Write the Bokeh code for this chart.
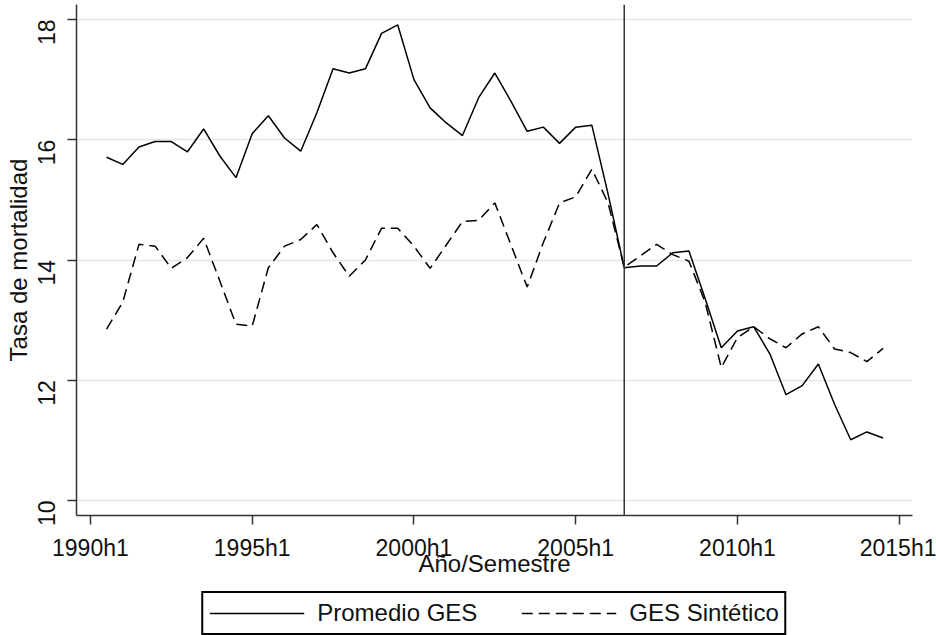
import math

from bokeh.plotting import figure
from bokeh.layouts import column
from bokeh.models import Range1d, FixedTicker, Span, Legend, LegendItem
from bokeh.embed import file_html
from bokeh.resources import INLINE

# Semester index: 0 = 1990h1, 1 = 1990h2, ... (data runs 1990h2 .. 2014h2)
semester = list(range(1, 50))

promedio_ges = [
    15.71, 15.59, 15.88, 15.97, 15.97, 15.80, 16.18, 15.73, 15.37, 16.10,
    16.40, 16.03, 15.81, 16.45, 17.18, 17.11, 17.18, 17.77, 17.91, 17.00,
    16.53, 16.28, 16.07, 16.70, 17.11, 16.64, 16.14, 16.21, 15.94, 16.21,
    16.24, 15.10, 13.87, 13.90, 13.90, 14.12, 14.15, 13.36, 12.54, 12.82,
    12.89, 12.44, 11.76, 11.91, 12.27, 11.60, 11.01, 11.14, 11.04,
]

ges_sintetico = [
    12.85, 13.30, 14.26, 14.23, 13.86, 14.04, 14.36, 13.65, 12.93, 12.90,
    13.87, 14.23, 14.34, 14.59, 14.12, 13.73, 14.00, 14.53, 14.53, 14.23,
    13.86, 14.25, 14.64, 14.66, 14.95, 14.25, 13.55, 14.29, 14.95, 15.05,
    15.51, 14.95, 13.88, 14.07, 14.26, 14.09, 13.98, 13.30, 12.21, 12.71,
    12.89, 12.69, 12.54, 12.77, 12.89, 12.52, 12.46, 12.31, 12.53,
]

x_ticks = [0, 10, 20, 30, 40, 50]
x_tick_labels = ["1990h1", "1995h1", "2000h1", "2005h1", "2010h1", "2015h1"]
y_ticks = [10, 12, 14, 16, 18]
treatment_semester = 33  # 2006h2

FONT = "Liberation Sans"
TEXT = "#111111"
SOLID = dict(line_color="black", line_width=1.5)
DASHED = dict(line_color="black", line_width=1.5, line_dash="11 6")
BORDERS = dict(min_border_left=76, min_border_right=24)

p = figure(
    width=936, height=591,
    output_backend="svg", toolbar_location=None,
    x_range=Range1d(-0.86, 50.82), y_range=Range1d(9.75, 18.25),
    min_border_top=4, min_border_bottom=76, **BORDERS,
    background_fill_color="white", border_fill_color="white",
)
p.outline_line_color = None

# grid: horizontal only
p.xgrid.grid_line_color = None
p.ygrid.ticker = FixedTicker(ticks=y_ticks)
p.ygrid.grid_line_color = "#e6e6e6"
p.ygrid.grid_line_width = 1.5

# x axis
xa = p.xaxis[0]
xa.ticker = FixedTicker(ticks=x_ticks)
xa.major_label_overrides = {t: s for t, s in zip(x_ticks, x_tick_labels)}
xa.axis_label = "Año/Semestre"

# y axis
ya = p.yaxis[0]
ya.ticker = FixedTicker(ticks=y_ticks)
ya.axis_label = "Tasa de mortalidad"
ya.major_label_orientation = math.pi / 2

for ax in (xa, ya):
    ax.axis_line_color = "#333333"
    ax.axis_line_width = 1.5
    ax.major_tick_line_color = "#333333"
    ax.major_tick_line_width = 1.5
    ax.major_tick_out = 9
    ax.major_tick_in = 0
    ax.minor_tick_line_color = None
    ax.major_label_text_font = FONT
    ax.major_label_text_font_size = "23px"
    ax.major_label_text_color = TEXT
    ax.axis_label_text_font = FONT
    ax.axis_label_text_font_size = "24px"
    ax.axis_label_text_font_style = "normal"
    ax.axis_label_text_color = TEXT

xa.major_label_standoff = 10
xa.axis_label_standoff = -14
ya.major_label_standoff = 21
ya.axis_label_standoff = -5

p.line(semester, promedio_ges, **SOLID)
p.line(semester, ges_sintetico, **DASHED)

p.add_layout(Span(location=treatment_semester, dimension="height",
                  line_color="#333333", line_width=1.5))

# legend strip under the chart; its keys reuse the series, kept out of view
leg = figure(
    width=936, height=44,
    output_backend="svg", toolbar_location=None,
    x_range=Range1d(100, 101), y_range=Range1d(100, 101),
    x_axis_location=None, y_axis_location=None,
    min_border_top=0, min_border_bottom=0, **BORDERS,
    background_fill_color="white", border_fill_color="white",
)
leg.outline_line_color = None
leg.xgrid.visible = False
leg.ygrid.visible = False
k1 = leg.line(semester, promedio_ges, **SOLID)
k2 = leg.line(semester, ges_sintetico, **DASHED)

legend = Legend(
    items=[LegendItem(label="Promedio GES", renderers=[k1]),
           LegendItem(label="GES Sintético", renderers=[k2])],
    orientation="horizontal",
    location="center",
    border_line_color="black", border_line_width=2, border_line_alpha=1.0,
    background_fill_color="white", background_fill_alpha=1.0,
    glyph_width=95, glyph_height=22, label_height=22,
    label_text_font=FONT, label_text_font_size="24px", label_text_color=TEXT,
    label_standoff=13, spacing=44, padding=6, margin=0,
)
leg.add_layout(legend)

layout = column(p, leg, spacing=0)
open("out.html", "w").write(file_html(layout, INLINE))
